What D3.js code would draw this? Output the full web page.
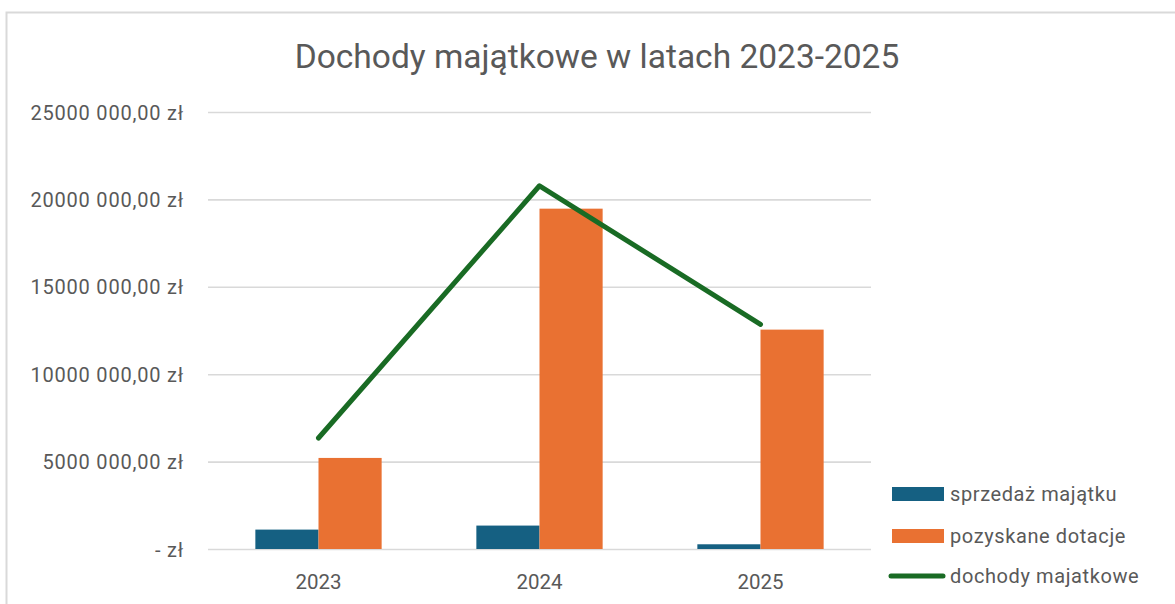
<!DOCTYPE html>
<html>
<head>
<meta charset="utf-8">
<script src="https://cdn.jsdelivr.net/npm/d3@7"></script>
<style>
  html, body { margin: 0; padding: 0; background: #fff; }
  svg { display: block; font-family: Roboto, "Noto Sans", sans-serif; }
</style>
</head>
<body>
<svg id="chart" width="1175" height="604"></svg>
<script>
// Data
const years = ['2023', '2024', '2025'];
const seriesNames = ['sprzedaż majątku', 'pozyskane dotacje'];
const sprzedaz = [1110000, 1340000, 270000];
const dotacje = [5210000, 19470000, 12550000];
const dochody = [6350000, 20780000, 12850000];
const lineName = 'dochody majatkowe';
const tickValues = [0, 5000000, 10000000, 15000000, 20000000, 25000000];
const tickLabels = ['- zł', '5000 000,00 zł', '10000 000,00 zł', '15000 000,00 zł', '20000 000,00 zł', '25000 000,00 zł'];
const title = 'Dochody majątkowe w latach 2023-2025';

const colors = ['#156082', '#E97132'];
const lineColor = '#196B24';
const textColor = '#595959';

const svg = d3.select('#chart');
svg.selectAll('*').remove();

// chart frame (cut off at right and bottom, as in the screenshot)
svg.append('rect')
  .attr('x', 6.5).attr('y', 12.5)
  .attr('width', 1200).attr('height', 620)
  .attr('fill', '#fff')
  .attr('stroke', '#d9d9d9')
  .attr('stroke-width', 2);

const plot = { left: 208, right: 871, top: 112, bottom: 549 };

// Scales
const x0 = d3.scaleBand()
  .domain(years)
  .range([plot.left, plot.right])
  .padding(0);

const groupW = x0.bandwidth() * 2 / 3.5; // Excel gap width 150%
const x1 = d3.scaleBand()
  .domain(seriesNames)
  .range([x0.bandwidth() / 2 - groupW / 2, x0.bandwidth() / 2 + groupW / 2])
  .padding(0);

const y = d3.scaleLinear()
  .domain([0, 25000000])
  .range([plot.bottom, plot.top]);

// Title
svg.append('text')
  .attr('x', 597)
  .attr('y', 68)
  .attr('text-anchor', 'middle')
  .style('fill', textColor)
  .style('font-size', '33.5px')
  .text(title);

// Grid lines
const grid = svg.append('g')
  .attr('transform', `translate(${plot.left},0)`)
  .call(d3.axisLeft(y)
    .tickValues(tickValues)
    .tickSize(-(plot.right - plot.left))
    .tickFormat('')
  );
grid.select('.domain').remove();
grid.selectAll('line')
  .attr('stroke', '#d9d9d9')
  .attr('stroke-width', 1.6);

// Y axis labels
const yAxis = svg.append('g')
  .attr('transform', 'translate(184,0)')
  .call(d3.axisLeft(y)
    .tickValues(tickValues)
    .tickSize(0)
    .tickPadding(0)
    .tickFormat((d, i) => tickLabels[i])
  );
yAxis.select('.domain').remove();
yAxis.selectAll('text')
  .attr('dy', '0.35em')
  .style('fill', textColor)
  .style('font-size', '20px')
  .style('letter-spacing', '0.8px')
  .style('font-family', 'Roboto, sans-serif');

// Bars
const rows = years.map((yr, i) => ({ year: yr, values: [sprzedaz[i], dotacje[i]] }));

const groups = svg.selectAll('.bar-group')
  .data(rows)
  .enter()
  .append('g')
  .attr('class', 'bar-group')
  .attr('transform', d => `translate(${x0(d.year)},0)`);

groups.selectAll('rect')
  .data(d => d.values.map((v, j) => ({ name: seriesNames[j], value: v, j })))
  .enter()
  .append('rect')
  .attr('x', d => x1(d.name))
  .attr('y', d => y(d.value))
  .attr('width', x1.bandwidth())
  .attr('height', d => y(0) - y(d.value))
  .attr('fill', d => colors[d.j]);

// X axis labels
const xAxis = svg.append('g')
  .attr('transform', `translate(0,${plot.bottom})`)
  .call(d3.axisBottom(x0).tickSize(0).tickPadding(0));
xAxis.select('.domain').remove();
xAxis.selectAll('text')
  .attr('dy', '40px')
  .style('fill', textColor)
  .style('font-size', '20.5px')
  .style('font-family', 'Roboto, sans-serif');

// Line
const line = d3.line()
  .x((d, i) => x0(years[i]) + x0.bandwidth() / 2)
  .y(d => y(d));

svg.append('path')
  .datum(dochody)
  .attr('d', line)
  .attr('fill', 'none')
  .attr('stroke', lineColor)
  .attr('stroke-width', 5)
  .attr('stroke-linecap', 'round')
  .attr('stroke-linejoin', 'round');

// Legend
const legend = svg.append('g')
  .attr('transform', 'translate(892,487)');

seriesNames.forEach((name, i) => {
  legend.append('rect')
    .attr('x', 0)
    .attr('y', i * 42)
    .attr('width', 52)
    .attr('height', 14)
    .attr('fill', colors[i]);
  legend.append('text')
    .attr('x', 58)
    .attr('y', i * 42 + 14)
    .style('fill', textColor)
    .style('font-size', '20px')
    .style('letter-spacing', '0.6px')
    .text(name);
});

legend.append('line')
  .attr('x1', -1).attr('x2', 51)
  .attr('y1', 89).attr('y2', 89)
  .attr('stroke', lineColor)
  .attr('stroke-width', 5)
  .attr('stroke-linecap', 'round');
legend.append('text')
  .attr('x', 58)
  .attr('y', 96)
  .style('fill', textColor)
  .style('font-size', '20px')
  .style('letter-spacing', '0.6px')
  .text(lineName);
</script>
</body>
</html>
